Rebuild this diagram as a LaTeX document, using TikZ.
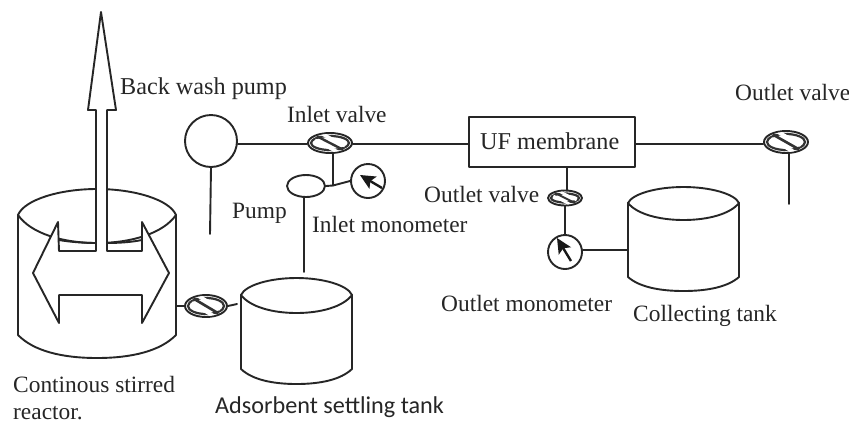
\documentclass[tikz,border=0pt]{standalone}
\usepackage{fontspec}
\setmainfont{Liberation Serif}
\newfontfamily\calib{Carlito}
\usetikzlibrary{shapes.geometric,arrows.meta}
\tikzset{
  pipe/.style={line width=1.9pt,line cap=round,line join=round,draw=black!85},
  lab/.style={anchor=base west,inner sep=0pt,font=\fontsize{23.4}{26}\selectfont,text=black!85},
  labbig/.style={anchor=base west,inner sep=0pt,font=\fontsize{24.2}{26}\selectfont,text=black!85},
  lab2/.style={anchor=base west,inner sep=0pt,font=\calib\fontsize{24.2}{26}\selectfont,text=black!85},
  roundpart/.style={pipe,circle,inner sep=0pt,fill=white},
  ovalpart/.style={pipe,ellipse,inner sep=0pt,fill=white},
  boxpart/.style={pipe,rectangle,inner sep=0pt,fill=white},
  needle/.style={black!90,line width=2.4pt,-{Stealth[length=15pt,width=14pt,inset=3pt]}}
}
\newcommand{\valvepart}[5]{% name,x,y,w,h
  \node[ovalpart,minimum width=#4pt,minimum height=#5pt] (#1) at (#2,#3) {};
  \begin{scope}[shift={(#2,#3)}]
    \clip (0,0) ellipse ({#4/2-1} and {#5/2-1});
    \draw[black!80,line width=2.2pt] (0,0) ellipse ({#4/2-3} and {#5/2-3});
    \draw[white,line width=#5*0.17pt] ({-#4*0.22},{-#5*0.50}) -- ({#4*0.34},{#5*0.14});
    \draw[white,line width=#5*0.17pt] ({-#4*0.34},{-#5*0.14}) -- ({#4*0.22},{#5*0.50});
    \draw[black!80,line width=#5*0.12pt] ({-#4*0.30},{-#5*0.34}) -- ({#4*0.30},{#5*0.34});
  \end{scope}
}
\newcommand{\cyl}[7]{% left,right,topY,midY,frontY,sideBottomY,bottomY
  \draw[pipe,fill=white] (#1,#4) .. controls ({#1+(#2-#1)*0.04},{#3+(#4-#3)*0.42}) and ({#1+(#2-#1)*0.26},#3) .. ({(#1+#2)/2},#3)
     .. controls ({#2-(#2-#1)*0.26},#3) and ({#2-(#2-#1)*0.04},{#3+(#4-#3)*0.42}) .. (#2,#4)
     -- (#2,#6) .. controls ({#2-(#2-#1)*0.10},{#6+(#7-#6)*0.7}) and ({#2-(#2-#1)*0.28},#7) .. ({(#1+#2)/2},#7)
     .. controls ({#1+(#2-#1)*0.28},#7) and ({#1+(#2-#1)*0.10},{#6+(#7-#6)*0.7}) .. (#1,#6) -- cycle;
  \draw[pipe] (#1,#4) .. controls ({#1+(#2-#1)*0.08},{#4+(#5-#4)*0.65}) and ({#1+(#2-#1)*0.28},#5) .. ({(#1+#2)/2},#5)
     .. controls ({#2-(#2-#1)*0.28},#5) and ({#2-(#2-#1)*0.08},{#4+(#5-#4)*0.65}) .. (#2,#4);
}
\begin{document}
\begin{tikzpicture}[x=1pt,y=-1pt]
\useasboundingbox[fill=white] (0,0) rectangle (849,424);

% reactor
\cyl{18}{176}{189}{215}{243}{335}{358}
\draw[pipe,fill=white] (33,273) -- (58,222) -- (59,251) -- (96,251) -- (96,110) -- (88,110)
  -- (101,12) -- (116,110) -- (107,110) -- (107,251) -- (142,251) -- (142,222) -- (169,273)
  -- (142,323) -- (142,295) -- (59,295) -- (59,323) -- cycle;
\draw[pipe] (59,240) .. controls (70,242) and (85,243) .. (96,243);
\draw[pipe] (107,243) .. controls (120,243) and (132,242) .. (142,240);

% tanks
\cyl{241}{352}{278}{295}{313}{369}{384}
\cyl{628}{739}{187}{203}{220}{277}{291}

% devices
\node[roundpart,minimum size=52pt] (backpump) at (211,141) {};
\node[ovalpart,minimum width=38pt,minimum height=22pt] (feedpump) at (306,186) {};
\node[roundpart,minimum size=34pt] (ingauge) at (368,181) {};
\node[roundpart,minimum size=34pt] (outgauge) at (565,252) {};
\node[boxpart,minimum width=166pt,minimum height=50pt] (uf) at (552,142) {};
\valvepart{reactorvalve}{206}{306}{42}{22}
\valvepart{inletvalve}{330}{143}{44}{20}
\valvepart{midvalve}{565}{198}{34}{15}
\valvepart{rightvalve}{786}{142}{44}{22}

% free ends
\coordinate (backstem) at (210,234);
\coordinate (feedstem) at (304,272);
\coordinate (rightstem) at (789,204);
\coordinate (inletjoin) at (333,185.5);
\coordinate (reactorport) at (176,306);
\coordinate (settleport) at (237,304);
\coordinate (tankport) at (628,250);

% connectors
\draw[pipe] (backpump.east) ++(0,3) -- (inletvalve.west |- 0,144);
\draw[pipe] (inletvalve.east |- 0,144) -- (uf.west |- 0,144);
\draw[pipe] (uf.east |- 0,144) -- (rightvalve.west |- 0,144);
\draw[pipe] (backpump.south) -- (backstem);
\draw[pipe] (feedpump.south -| feedstem) -- (feedstem);
\draw[pipe] (rightvalve.south -| rightstem) -- (rightstem);
\draw[pipe] (inletvalve.south -| inletjoin) -- (inletjoin);
\draw[pipe] (feedpump.east) -- (inletjoin) -- (ingauge.west);
\draw[pipe] (uf.south -| midvalve) ++(2,0) -- ([xshift=2pt]midvalve.north);
\draw[pipe] (midvalve.south) -- (outgauge.north);
\draw[pipe] (outgauge.east) ++(0,-2) -- (tankport);
\draw[pipe] (reactorport) -- (reactorvalve.west);
\draw[pipe] (reactorvalve.east) -- (settleport);

% gauge needles
\draw[needle] (382,188) -- (360,175);
\draw[needle] (571,261) -- (557,238);

% labels
\node[labbig] (t1) at (120,94) {Back wash pump};
\node[lab] (t2) at (287,122) {Inlet valve};
\node[lab] (t3) at (735,100) {Outlet valve};
\node[labbig] (t4) at (480,149) {UF membrane};
\node[lab] (t5) at (424,202) {Outlet valve};
\node[lab] (t6) at (232,218) {Pump};
\node[lab] (t7) at (312,232) {Inlet monometer};
\node[lab] (t8) at (441,311) {Outlet monometer};
\node[lab] (t9) at (633,321) {Collecting tank};
\node[lab] (t10) at (13,392) {Continous stirred};
\node[lab] (t11) at (13,419) {reactor.};
\node[lab2] (t12) at (215,413) {Adsorbent settling tank};
\end{tikzpicture}
\end{document}
